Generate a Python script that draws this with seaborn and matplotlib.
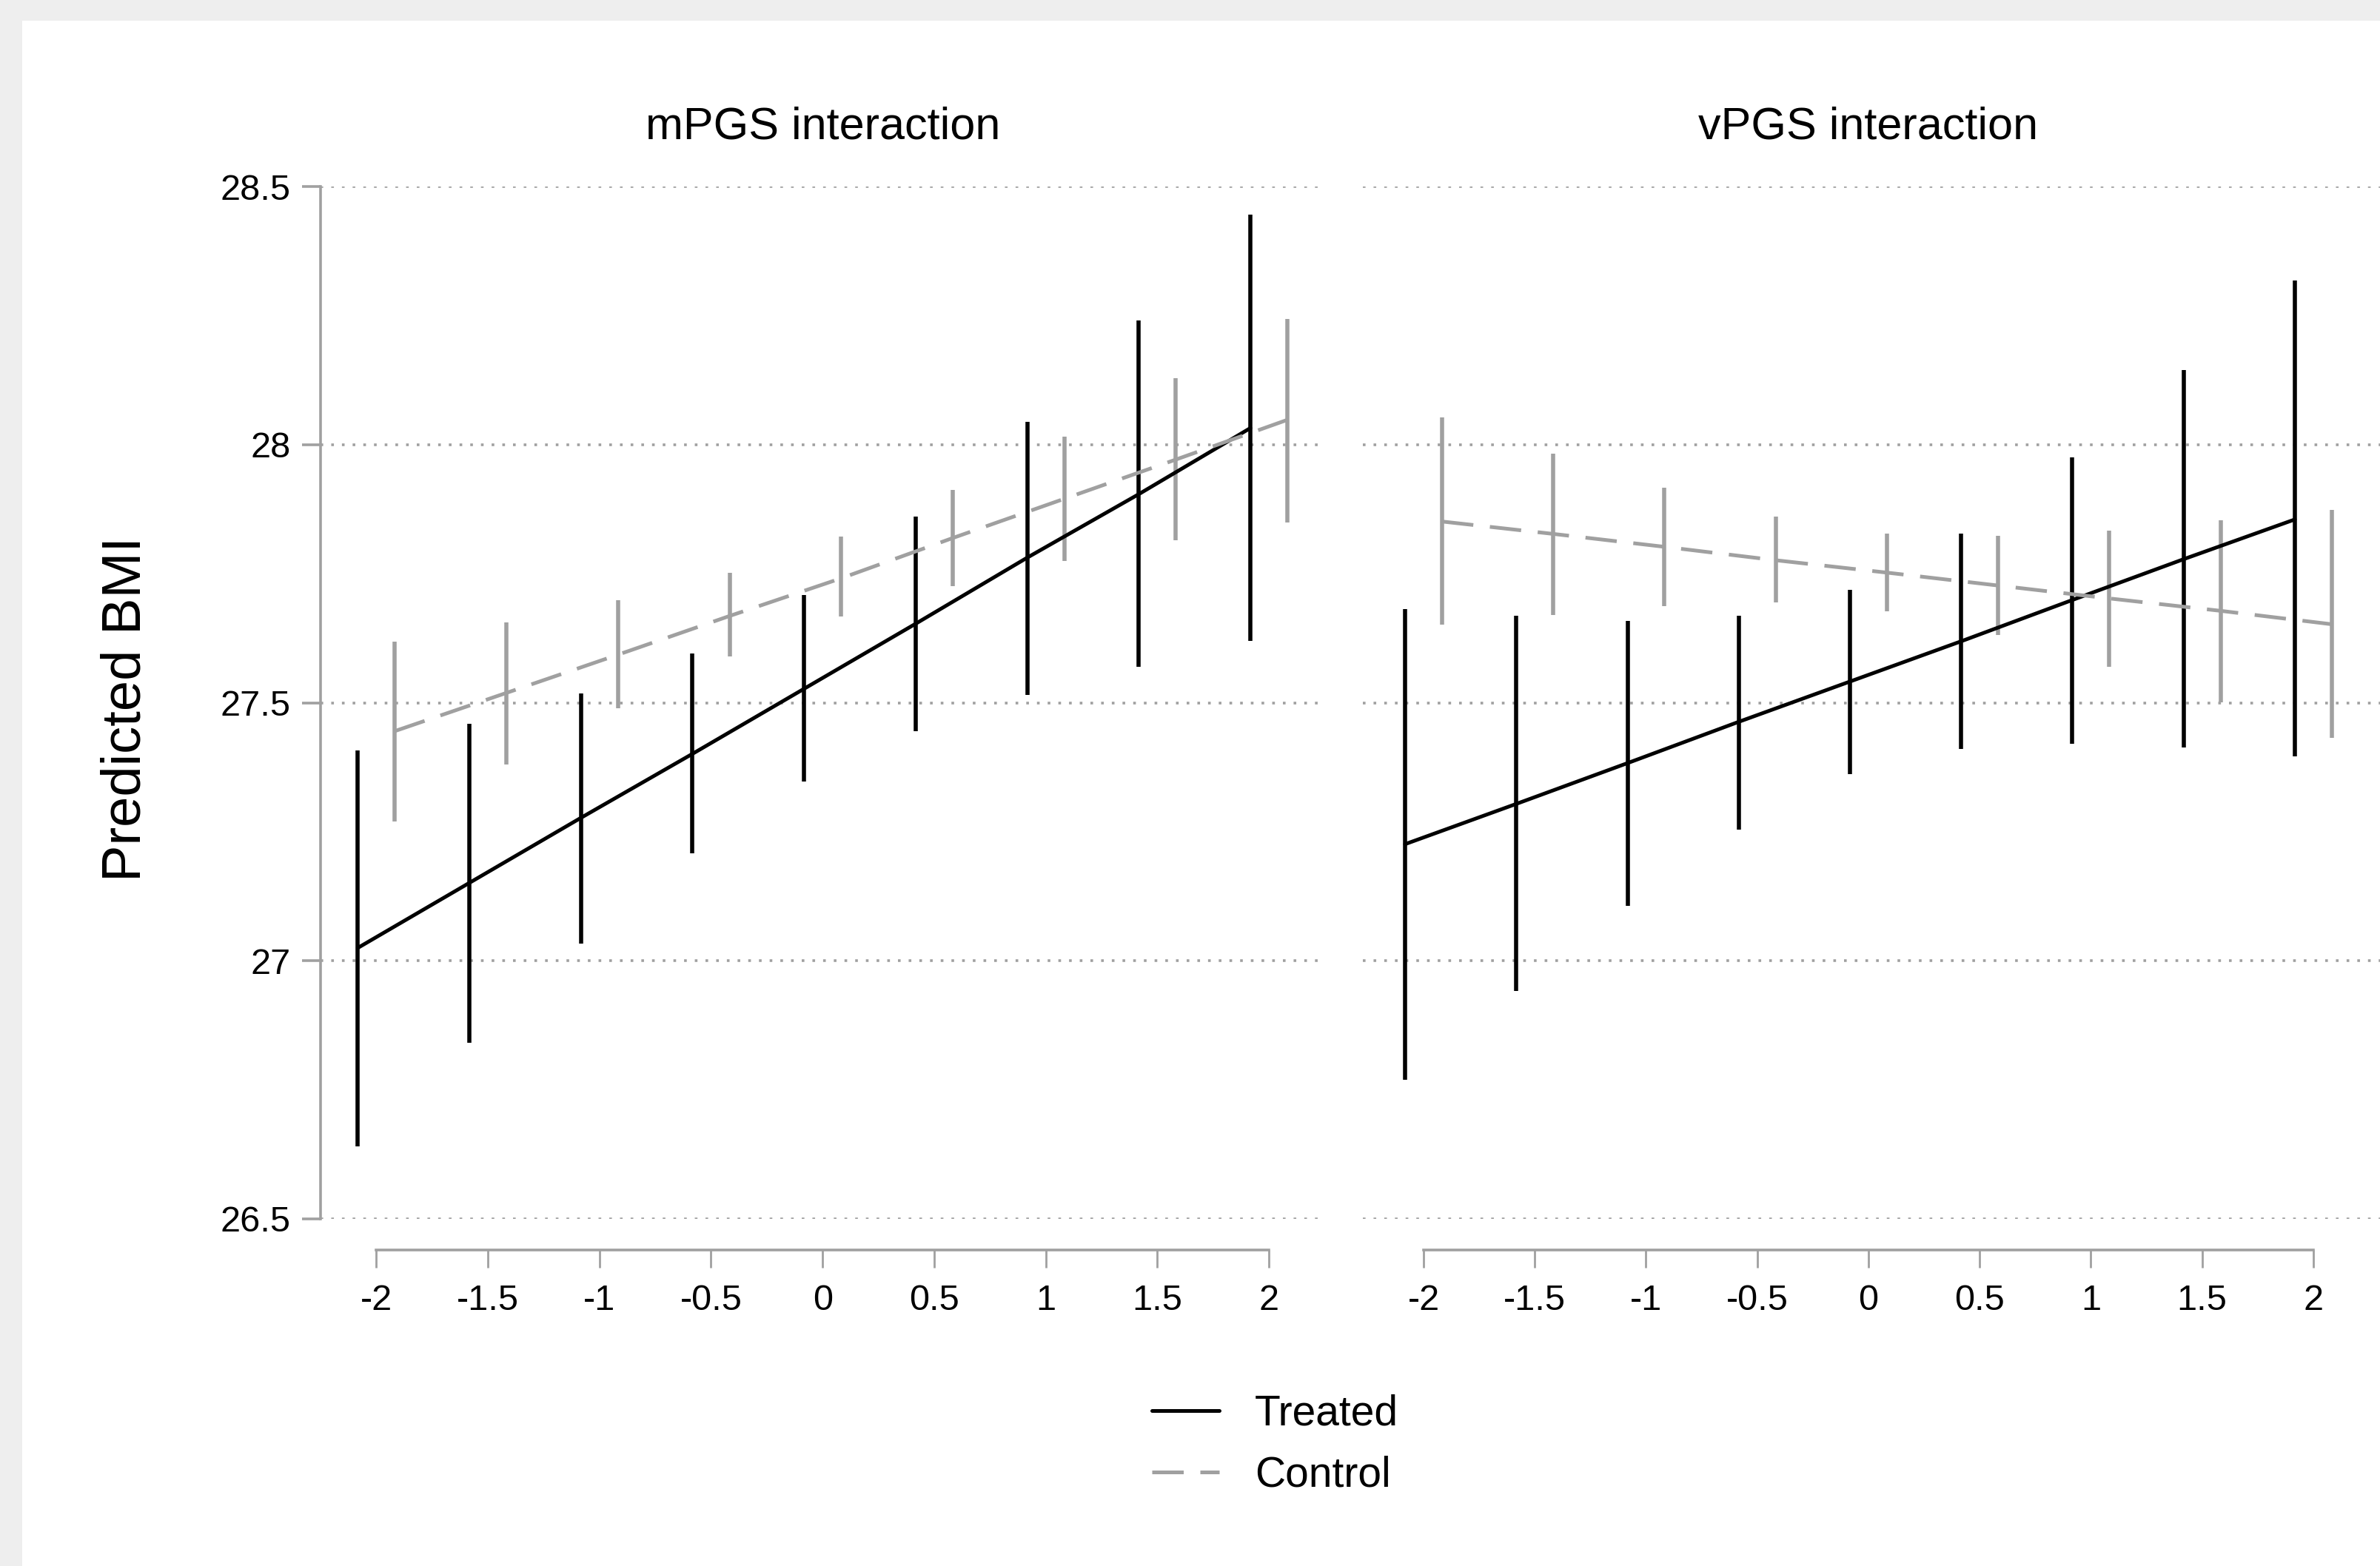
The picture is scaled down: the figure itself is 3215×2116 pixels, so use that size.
import pandas as pd
import matplotlib.pyplot as plt
import seaborn as sns
from matplotlib.patches import Rectangle

# PGS levels on the x axis
pgs_levels = [-2, -1.5, -1, -0.5, 0, 0.5, 1, 1.5, 2]
x_ticklabels = ['-2', '-1.5', '-1', '-0.5', '0', '0.5', '1', '1.5', '2']
y_ticks = [26.5, 27, 27.5, 28, 28.5]
y_ticklabels = ['26.5', '27', '27.5', '28', '28.5']

# mPGS interaction panel
m_treated = [27.025, 27.151, 27.277, 27.401, 27.527, 27.653, 27.781, 27.904, 28.032]
m_treated_lo = [26.640, 26.841, 27.033, 27.208, 27.348, 27.445, 27.515, 27.570, 27.619]
m_treated_hi = [27.408, 27.459, 27.518, 27.595, 27.708, 27.860, 28.044, 28.241, 28.445]
m_control = [27.445, 27.519, 27.593, 27.668, 27.741, 27.819, 27.895, 27.971, 28.048]
m_control_lo = [27.270, 27.381, 27.489, 27.589, 27.667, 27.726, 27.774, 27.814, 27.849]
m_control_hi = [27.618, 27.656, 27.699, 27.751, 27.822, 27.912, 28.016, 28.129, 28.244]

# vPGS interaction panel
v_treated = [27.226, 27.304, 27.383, 27.463, 27.541, 27.619, 27.699, 27.778, 27.855]
v_treated_lo = [26.769, 26.942, 27.107, 27.254, 27.361, 27.411, 27.420, 27.413, 27.396]
v_treated_hi = [27.682, 27.668, 27.658, 27.669, 27.719, 27.827, 27.975, 28.144, 28.318]
v_control = [27.851, 27.827, 27.802, 27.776, 27.752, 27.727, 27.702, 27.678, 27.652]
v_control_lo = [27.651, 27.670, 27.687, 27.694, 27.677, 27.631, 27.569, 27.501, 27.432]
v_control_hi = [28.052, 27.982, 27.916, 27.860, 27.827, 27.823, 27.834, 27.853, 27.874]

panels = ['mPGS interaction', 'vPGS interaction']
groups = ['Treated', 'Control']

# build one long table
rows = []
series = {
    ('mPGS interaction', 'Treated'): (m_treated, m_treated_lo, m_treated_hi),
    ('mPGS interaction', 'Control'): (m_control, m_control_lo, m_control_hi),
    ('vPGS interaction', 'Treated'): (v_treated, v_treated_lo, v_treated_hi),
    ('vPGS interaction', 'Control'): (v_control, v_control_lo, v_control_hi),
}
dodge = {'Treated': -0.083, 'Control': 0.083}
for (panel, grp), (mid, lo, hi) in series.items():
    for lvl, m, l, h in zip(pgs_levels, mid, lo, hi):
        rows.append({'panel': panel, 'group': grp, 'x': lvl + dodge[grp],
                     'y': m, 'lo': l, 'hi': h})
df = pd.DataFrame(rows)

sns.set_style('white')
plt.rcParams['font.family'] = ['Liberation Sans', 'DejaVu Sans']
plt.rcParams['text.color'] = 'black'

W, H = 3215, 2116
DPI = 200
fig = plt.figure(figsize=(W / DPI, H / DPI), dpi=DPI)
fig.patch.set_facecolor('#eeeeee')
fig.patches.append(Rectangle((30 / W, 0), 1, 1 - 28 / H, transform=fig.transFigure,
                             facecolor='white', edgecolor='none', zorder=-10))

gray = '#a0a0a0'
palette = {'Treated': 'black', 'Control': gray}
dashes = {'Treated': '', 'Control': (8.5, 4.5)}
lw = 1.8

bottom = 1 - 1647 / H
height = (1647 - 252) / H
ax_l = fig.add_axes([433 / W, bottom, (1784 - 433) / W, height])
ax_r = fig.add_axes([1841 / W, bottom, (W - 1841) / W, height])
xlims = [(-2.25, 2.232), (-2.273, 2.30)]

for ax, panel, xl in zip([ax_l, ax_r], panels, xlims):
    ax.set_facecolor('none')
    sub = df[df['panel'] == panel]
    for grp in groups:
        g = sub[sub['group'] == grp]
        ax.vlines(g['x'], g['lo'], g['hi'], colors=palette[grp], lw=2.0, zorder=3)
    sns.lineplot(data=sub, x='x', y='y', hue='group', style='group',
                 hue_order=groups, style_order=groups, palette=palette,
                 dashes=dashes, linewidth=lw, ax=ax, legend=(ax is ax_l), zorder=4)
    ax.set_xlim(*xl)
    ax.set_ylim(26.5, 28.5)
    ax.set_xlabel('')
    ax.set_ylabel('')
    ax.set_xticks(pgs_levels)
    ax.set_xticklabels(x_ticklabels)
    ax.set_yticks(y_ticks)
    ax.grid(axis='y', color=gray, linestyle=(0, (1, 3)), linewidth=1.3)
    ax.grid(axis='x', visible=False)
    for s in ['top', 'right']:
        ax.spines[s].set_visible(False)
    ax.spines['bottom'].set_position(('outward', 15))
    ax.spines['bottom'].set_bounds(-2, 2)
    ax.spines['bottom'].set_color(gray)
    ax.spines['bottom'].set_linewidth(1.3)
    ax.tick_params(axis='x', bottom=True, length=8.6, width=1.0, color=gray,
                   pad=8.0, labelsize=17.5, labelcolor='black')
    # panel title
    x_mid = ax.get_position().x0 + ax.get_position().width * (0 - xl[0]) / (xl[1] - xl[0])
    fig.text(x_mid, 1 - 188 / H, panel, ha='center', va='baseline', fontsize=22)

ax_l.set_yticklabels(y_ticklabels)
ax_l.spines['left'].set_bounds(26.5, 28.5)
ax_l.spines['left'].set_color(gray)
ax_l.spines['left'].set_linewidth(1.3)
ax_l.tick_params(axis='y', left=True, length=9, width=1.3, color=gray,
                 pad=5.5, labelsize=17.5, labelcolor='black')
ax_r.spines['left'].set_visible(False)
ax_r.tick_params(axis='y', left=False, labelleft=False)

fig.text(170 / W, 1 - 958 / H, 'Predicted BMI', rotation=90, ha='center',
         va='center', fontsize=26.7)

handles, labels = ax_l.get_legend_handles_labels()
ax_l.get_legend().remove()
fig.legend(handles, labels, loc='upper left', bbox_to_anchor=(1556 / W, 1 - 1884 / H),
           frameon=False, fontsize=20.5, handlelength=1.6, handletextpad=0.84,
           labelspacing=0.5, borderpad=0, borderaxespad=0, labelcolor='black')

fig.savefig('out.png', dpi=DPI, facecolor=fig.get_facecolor())
